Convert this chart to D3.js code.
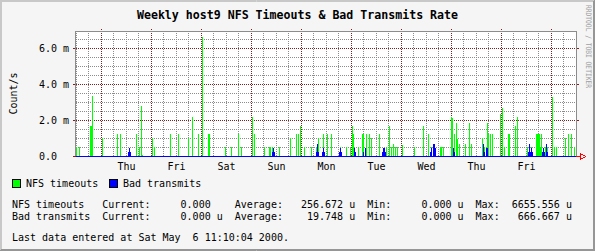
<!DOCTYPE html>
<html>
<head>
<meta charset="utf-8">
<script src="https://cdn.jsdelivr.net/npm/d3@7"></script>
<style>
  html, body { margin: 0; padding: 0; background: #f5f5f5; }
  svg { display: block; }
  text { font-family: "DejaVu Sans Mono", monospace; fill: #000; white-space: pre; }
</style>
</head>
<body>
<div id="chart"></div>
<script>
// slots are 28.8 minute samples counted from the start of the graph
const nfsSlot = [0, 3, 14, 15, 16, 26, 41, 44, 60, 63, 65, 66, 76, 78, 94, 102, 112, 116, 122, 126,
    132, 133, 149, 155, 162, 165, 176, 178, 188, 193, 194, 196, 203, 214, 220, 222, 224, 228, 235,
    240, 242, 247, 251, 255, 264, 270, 274, 276, 277, 282, 283, 286, 288, 290, 293, 295, 303, 308,
    310, 313, 315, 317, 319, 321, 326, 338, 347, 353, 355, 364, 365, 367, 375, 376, 378, 380, 381,
    383, 389, 393, 395, 406, 409, 411, 412, 413, 414, 416, 424, 426, 428, 432, 433, 439, 441, 451,
    455, 460, 461, 462, 463, 464, 465, 469, 472, 476, 478, 480, 489, 492, 495, 498];
const nfsRate = [0.48, 0.48, 1.7, 1.7, 3.38, 1.02, 1.21, 1.21, 1.21, 0.5, 2.82, 0.06, 1.02, 0.48, 1.21, 1.21, 1.03, 2.2, 1.21, 6.66,
    1.21, 1.21, 0.48, 0.5, 1.21, 0.5, 2.2, 1.21, 0.48, 0.5, 0.5, 0.5, 0.5, 1.03, 1.21, 1.21, 1.66, 0.48, 0.48,
    0.5, 1.03, 1.21, 1.21, 1.21, 0.5, 0.5, 0.5, 1.7, 1.21, 0.5, 0.5, 1.21, 1.21, 1.21, 1.21, 1.03, 1.21, 0.1,
    0.5, 1.68, 0.5, 0.7, 0.5, 0.5, 0.6, 0.5, 1.7, 1.21, 0.5, 0.5, 0.5, 0.5, 2.17, 2.15, 1.21, 1.83, 0.93,
    0.7, 0.7, 1.83, 0.7, 1.03, 0.5, 1.03, 1.83, 1.21, 1.21, 1.21, 2.35, 2.69, 0.5, 1.21, 1.21, 1.7, 2.2, 0.5,
    0.5, 1.21, 1.21, 1.21, 1.21, 0.5, 1.21, 0.5, 0.5, 3.3, 0.5, 0.5, 1.03, 1.21, 1.21, 0.5];

const badSlot = [52, 53, 54, 196, 197, 198, 240, 241, 242, 246, 247, 248, 263, 264, 265, 278, 279, 288, 289,
    306, 307, 308, 309, 354, 355, 356, 357, 358, 359, 377, 378, 407, 408, 409, 410, 411, 412,
    452, 453, 454, 455, 456, 466, 467, 468, 470, 471];
const badRate = [0.222, 0.444, 0.222, 0.222, 0.444, 0.222, 0.222, 0.667, 0.222, 0.222, 0.444, 0.222, 0.222, 0.444, 0.222, 0.444, 0.222, 0.222, 0.444,
    0.222, 0.444, 0.444, 0.222, 0.222, 0.444, 0.222, 0.667, 0.667, 0.444, 0.444, 0.222, 0.222, 0.667, 0.222, 0.444, 0.222, 0.444,
    0.222, 0.667, 0.222, 0.444, 0.222, 0.222, 0.444, 0.222, 0.667, 0.222];

const yTicks = [0, 2, 4, 6];
const seriesNames = ["NFS timeouts", "Bad transmits"];
const seriesColors = ["#00ff00", "#0000ff"];
const statCurrent = [0, 0];
const statAverage = [256.672, 19.748];
const statMin = [0, 0];
const statMax = [6655.556, 666.667];
const currentUnit = [" ", "u"];

const width = 595, height = 251;
const margin = { top: 31, left: 76, right: 19, bottom: 95 };
const plotW = width - margin.left - margin.right; // 500
const plotH = height - margin.top - margin.bottom; // 125

const start = new Date(Date.UTC(2000, 3, 26, 11, 46));
const slotMs = 1728 * 1000;
const end = new Date(+start + plotW * slotMs);
const slotTime = i => new Date(+start + i * slotMs);

const x = d3.scaleUtc().domain([start, end]).range([margin.left, margin.left + plotW]);
const y = d3.scaleLinear().domain([0, 7]).range([margin.top + plotH, margin.top]);
const px = v => Math.floor(v) + 0.5;

const svg = d3.select("#chart").append("svg").attr("width", width).attr("height", height);

svg.append("rect").attr("width", width).attr("height", height).attr("fill", "#f5f5f5");
// shaded frame
svg.append("path").attr("d", `M0,0.5H${width}M0,1.5H${width - 1}M0.5,0V${height}M1.5,0V${height - 1}`)
    .attr("stroke", "#c8c8c8");
svg.append("path").attr("d", `M0,${height - 0.5}H${width}M1,${height - 1.5}H${width}M${width - 0.5},0V${height}M${width - 1.5},1V${height}`)
    .attr("stroke", "#969696");

svg.append("rect").attr("x", margin.left).attr("y", margin.top)
    .attr("width", plotW).attr("height", plotH).attr("fill", "#fff");

const grid = svg.append("g").attr("shape-rendering", "crispEdges");
const x0 = margin.left, x1 = margin.left + plotW;
const y0 = y(0), y1 = y(7);

// minor grid
const minorY = d3.range(0.5, 7, 0.5).filter(v => v % 2 !== 0);
grid.selectAll("line.minor-h").data(minorY).join("line")
    .attr("x1", x0).attr("x2", x1)
    .attr("y1", d => px(y(d))).attr("y2", d => px(y(d)))
    .attr("stroke", "#8c8c8c").attr("stroke-dasharray", "1,1");
const minorX = d3.utcHour.every(6).range(start, end).filter(d => d.getUTCHours() !== 0);
grid.selectAll("line.minor-v").data(minorX).join("line")
    .attr("x1", d => px(x(d))).attr("x2", d => px(x(d)))
    .attr("y1", y1).attr("y2", y0)
    .attr("stroke", "#8c8c8c").attr("stroke-dasharray", "1,1");

// major grid
const majorY = yTicks.filter(v => v > 0);
grid.selectAll("line.major-h").data(majorY).join("line")
    .attr("x1", x0).attr("x2", x1)
    .attr("y1", d => px(y(d))).attr("y2", d => px(y(d)))
    .attr("stroke", "#821e1e").attr("stroke-dasharray", "1,1");
grid.selectAll("path.major-tick").data(yTicks).join("path")
    .attr("d", d => `M${x0 - 3},${px(y(d))}H${x0}M${x1},${px(y(d))}H${x1 + 3}`)
    .attr("stroke", "#821e1e");
const days = d3.utcDay.range(start, end);
grid.selectAll("line.major-v").data(days).join("line")
    .attr("x1", d => px(x(d))).attr("x2", d => px(x(d)))
    .attr("y1", y1 - 2).attr("y2", y0)
    .attr("stroke", "#821e1e").attr("stroke-dasharray", "1,1");

// data
const nfsData = nfsSlot.map((s, i) => ({ t: slotTime(s), v: nfsRate[i] }));
const badData = badSlot.map((s, i) => ({ t: slotTime(s), v: badRate[i] }));

const bars = svg.append("g").attr("shape-rendering", "crispEdges");
bars.selectAll("rect.nfs").data(nfsData).join("rect")
    .attr("x", d => Math.floor(x(d.t)))
    .attr("width", 1)
    .attr("y", d => Math.round(y(d.v)))
    .attr("height", d => y0 + 1 - Math.round(y(d.v)))
    .attr("fill", seriesColors[0]);
bars.selectAll("rect.bad").data(badData).join("rect")
    .attr("x", d => Math.floor(x(d.t)))
    .attr("width", 1)
    .attr("y", d => Math.round(y(d.v)))
    .attr("height", d => y0 + 1 - Math.round(y(d.v)))
    .attr("fill", seriesColors[1]);

// frame and axis
const frame = svg.append("g").attr("shape-rendering", "crispEdges");
frame.append("path")
    .attr("d", `M${x0 - 0.5},${y0}V${y1 + 0.5}H${x1 + 0.5}V${y0}`)
    .attr("fill", "none").attr("stroke", "#8c8c8c");
frame.append("line").attr("x1", x0).attr("x2", x1).attr("y1", y0 + 0.5).attr("y2", y0 + 0.5)
    .attr("stroke", seriesColors[1]);
frame.append("line").attr("x1", x1).attr("x2", x1 + 4).attr("y1", y0 + 0.5).attr("y2", y0 + 0.5)
    .attr("stroke", "#ff0000");
svg.append("path")
    .attr("d", `M${x1 + 4.5},${y0 - 2.5}V${y0 + 3.5}L${x1 + 9.5},${y0 + 0.5}Z`)
    .attr("fill", "none").attr("stroke", "#ff0000").attr("shape-rendering", "crispEdges");

// y labels
svg.selectAll("text.ylab").data(yTicks).join("text")
    .attr("x", x0 - 7).attr("y", d => y(d) + 3.5)
    .attr("text-anchor", "end").attr("font-size", "10px")
    .text(d => d === 0 ? "0.0  " : d.toFixed(1) + " m");

// x labels, centred on each full day
const fmtDay = d3.utcFormat("%a");
const noons = d3.utcDay.range(start, end)
    .map(d => d3.utcHour.offset(d, 12))
    .filter(d => d < end);
svg.selectAll("text.xlab").data(noons).join("text")
    .attr("x", d => x(d)).attr("y", 169.5)
    .attr("text-anchor", "middle").attr("font-size", "10px")
    .text(d => fmtDay(d));

// titles
svg.append("text").attr("x", 297.5).attr("y", 18.5)
    .attr("text-anchor", "middle").attr("font-size", "11.6px").attr("font-weight", "bold")
    .text("Weekly host9 NFS Timeouts & Bad Transmits Rate");
svg.append("text").attr("transform", `translate(16.5,${(y0 + y1) / 2}) rotate(-90)`)
    .attr("text-anchor", "middle").attr("font-size", "10px")
    .text("Count/s");
svg.append("text").attr("transform", "translate(586,5) rotate(90)")
    .attr("font-size", "7.5px").attr("textLength", 83).attr("lengthAdjust", "spacingAndGlyphs")
    .style("fill", "#a0a0a0")
    .text("RRDTOOL / TOBI OETIKER");

// legend
const legX = [12.5, 109.5];
seriesNames.forEach((name, i) => {
    svg.append("rect").attr("x", legX[i]).attr("y", 179.5).attr("width", 8).attr("height", 8)
        .attr("fill", seriesColors[i]).attr("stroke", "#000").attr("shape-rendering", "crispEdges");
    svg.append("text").attr("x", legX[i] + 13.5).attr("y", 187).attr("font-size", "10px").text(name);
});

const f = (v, u) => v.toFixed(3).padStart(10) + " " + u;
seriesNames.forEach((name, i) => {
    const line = name.padEnd(15) + "Current:" + f(statCurrent[i], currentUnit[i]) +
        "  Average:" + f(statAverage[i], "u") +
        "  Min:" + f(statMin[i], "u") +
        "  Max:" + f(statMax[i], "u");
    svg.append("text").attr("x", 12).attr("y", 207.5 + i * 12.7).attr("font-size", "10px").text(line);
});

svg.append("text").attr("x", 12).attr("y", 241).attr("font-size", "10px")
    .text("Last data entered at Sat May  6 11:10:04 2000.");
</script>
</body>
</html>
